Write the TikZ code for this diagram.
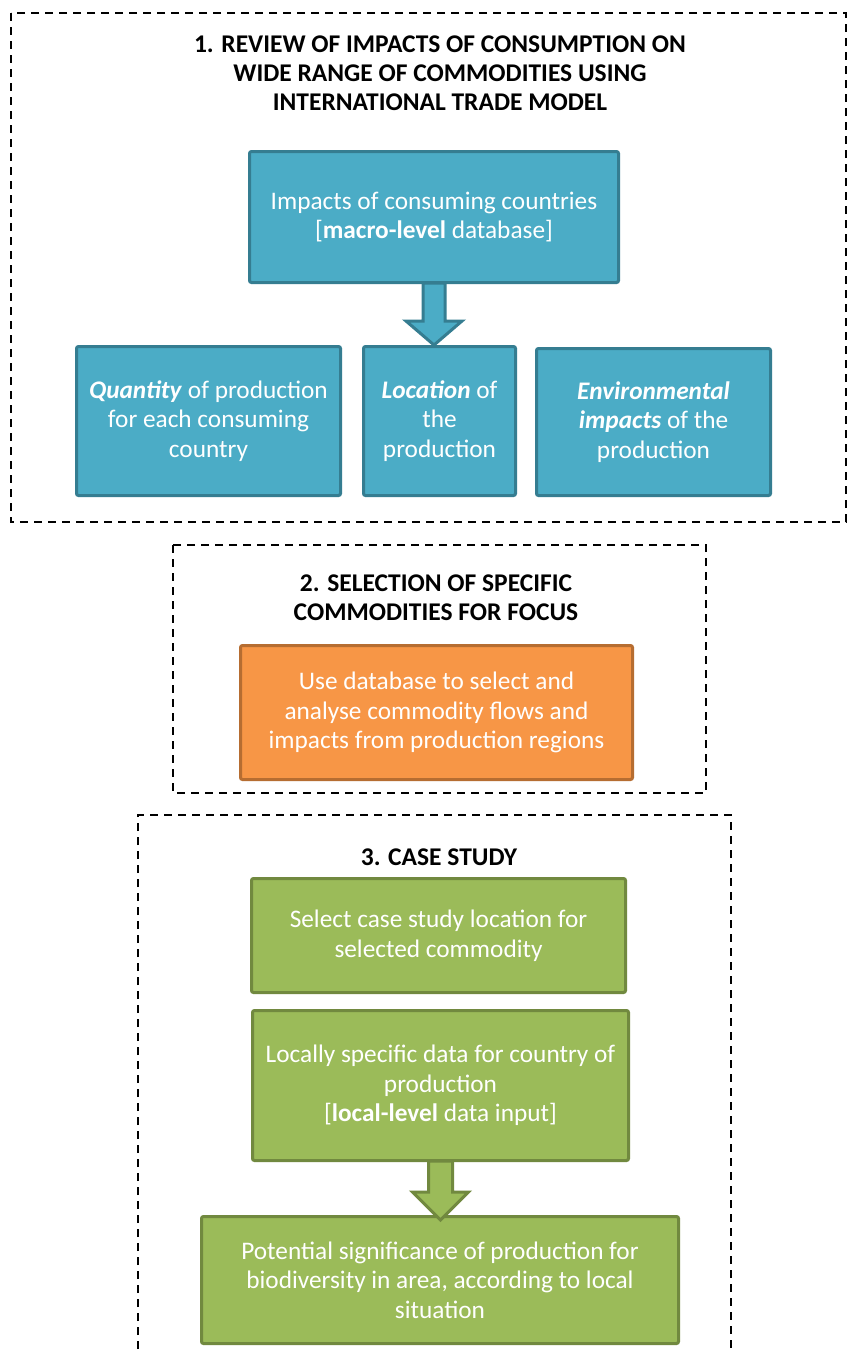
\documentclass[tikz,border=0pt]{standalone}
\usepackage{fontspec}
\setmainfont{Carlito}
\usetikzlibrary{calc}

\definecolor{aquafill}{HTML}{4BACC6}
\definecolor{aquadraw}{HTML}{357D91}
\definecolor{orangefill}{HTML}{F79646}
\definecolor{orangedraw}{HTML}{B66D31}
\definecolor{greenfill}{HTML}{9BBB59}
\definecolor{greendraw}{HTML}{71893F}

\begin{document}
\begin{tikzpicture}[x = 1pt, y = -1pt,
    every node/.style = {font = \fontsize{25.3}{29.5}\selectfont, align = center},
    stagetitle/.style = {font = \fontsize{25.5}{29}\selectfont\bfseries},
    stageframe/.style = {dash pattern = on 8pt off 6pt, line width = 1.5pt},
    box/.style = {draw, line width = 3pt, rounded corners = 2pt, text = white},
    aquabox/.style = {box, fill = aquafill, draw = aquadraw},
    orangebox/.style = {box, fill = orangefill, draw = orangedraw},
    greenbox/.style = {box, fill = greenfill, draw = greendraw},
    aquaarrow/.style = {fill = aquafill, draw = aquadraw, line width = 3pt, line join = miter},
    greenarrow/.style = {fill = greenfill, draw = greendraw, line width = 3pt, line join = miter}]
    \useasboundingbox (0, 0) rectangle (853, 1353);
    \fill [white] (0, 0) rectangle (853, 1353);

    % stage 1
    \draw [stageframe] (11, 13) rectangle (846, 522);
    \node [stagetitle] (title1) at (440, 73) {1. REVIEW OF IMPACTS OF CONSUMPTION ON\\WIDE RANGE OF COMMODITIES USING\\INTERNATIONAL TRADE MODEL};
    \node [aquabox, minimum width = 369pt, minimum height = 131pt] (impacts) at (434, 217) {Impacts of consuming countries\\{[}\textbf{macro-level} database{]}};
    \node [aquabox, minimum width = 264pt, minimum height = 149pt] (quantity) at (208.5, 421) {\textbf{\textit{Quantity}} of production\\for each consuming\\country};
    \node [aquabox, minimum width = 152pt, minimum height = 149pt] (location) at (439.5, 421) {\textbf{\textit{Location}} of\\the\\production};
    \node [aquabox, minimum width = 234pt, minimum height = 147pt] (envimpacts) at (653.5, 422) {\textbf{\textit{Environmental}}\\\textbf{\textit{impacts}} of the\\production};
    \draw [aquaarrow] ($(impacts.south) + (-11, -1)$) -- ($(impacts.south |- location.north) + (-11, -24)$) -- ++(-17, 0)
        -- (impacts.south |- location.north) -- ++(28, -24) -- ++(-17, 0) -- ($(impacts.south) + (11, -1)$) -- cycle;

    % stage 2
    \draw [stageframe] (173, 545) rectangle (706, 793);
    \node [stagetitle] (title2) at (436, 598) {2. SELECTION OF SPECIFIC\\COMMODITIES FOR FOCUS};
    \node [orangebox, minimum width = 392pt, minimum height = 134pt] (selection) at (436.5, 712.5) {Use database to select and\\analyse commodity flows and\\impacts from production regions};

    % stage 3
    \draw [stageframe] (138, 1363) |- (731, 815) -- (731, 1363);
    \node [stagetitle] (title3) at (439, 857) {3. CASE STUDY};
    \node [greenbox, minimum width = 374pt, minimum height = 114pt] (casesite) at (438.5, 935.5) {Select case study location for\\selected commodity};
    \node [greenbox, minimum width = 376pt, minimum height = 150pt] (localdata) at (440.5, 1085.5) {Locally specific data for country of\\production\\{[}\textbf{local-level} data input{]}};
    \node [greenbox, minimum width = 477pt, minimum height = 127pt] (significance) at (440, 1280) {Potential significance of production for\\biodiversity in area, according to local\\situation};
    \draw [greenarrow] ($(localdata.south) + (-12, -1)$) -- ($(localdata.south |- significance.north) + (-12, -23)$) -- ++(-16, 0)
        -- ($(localdata.south |- significance.north) + (0, 5)$) -- ++(28, -28) -- ++(-16, 0) -- ($(localdata.south) + (12, -1)$) -- cycle;
\end{tikzpicture}
\end{document}
